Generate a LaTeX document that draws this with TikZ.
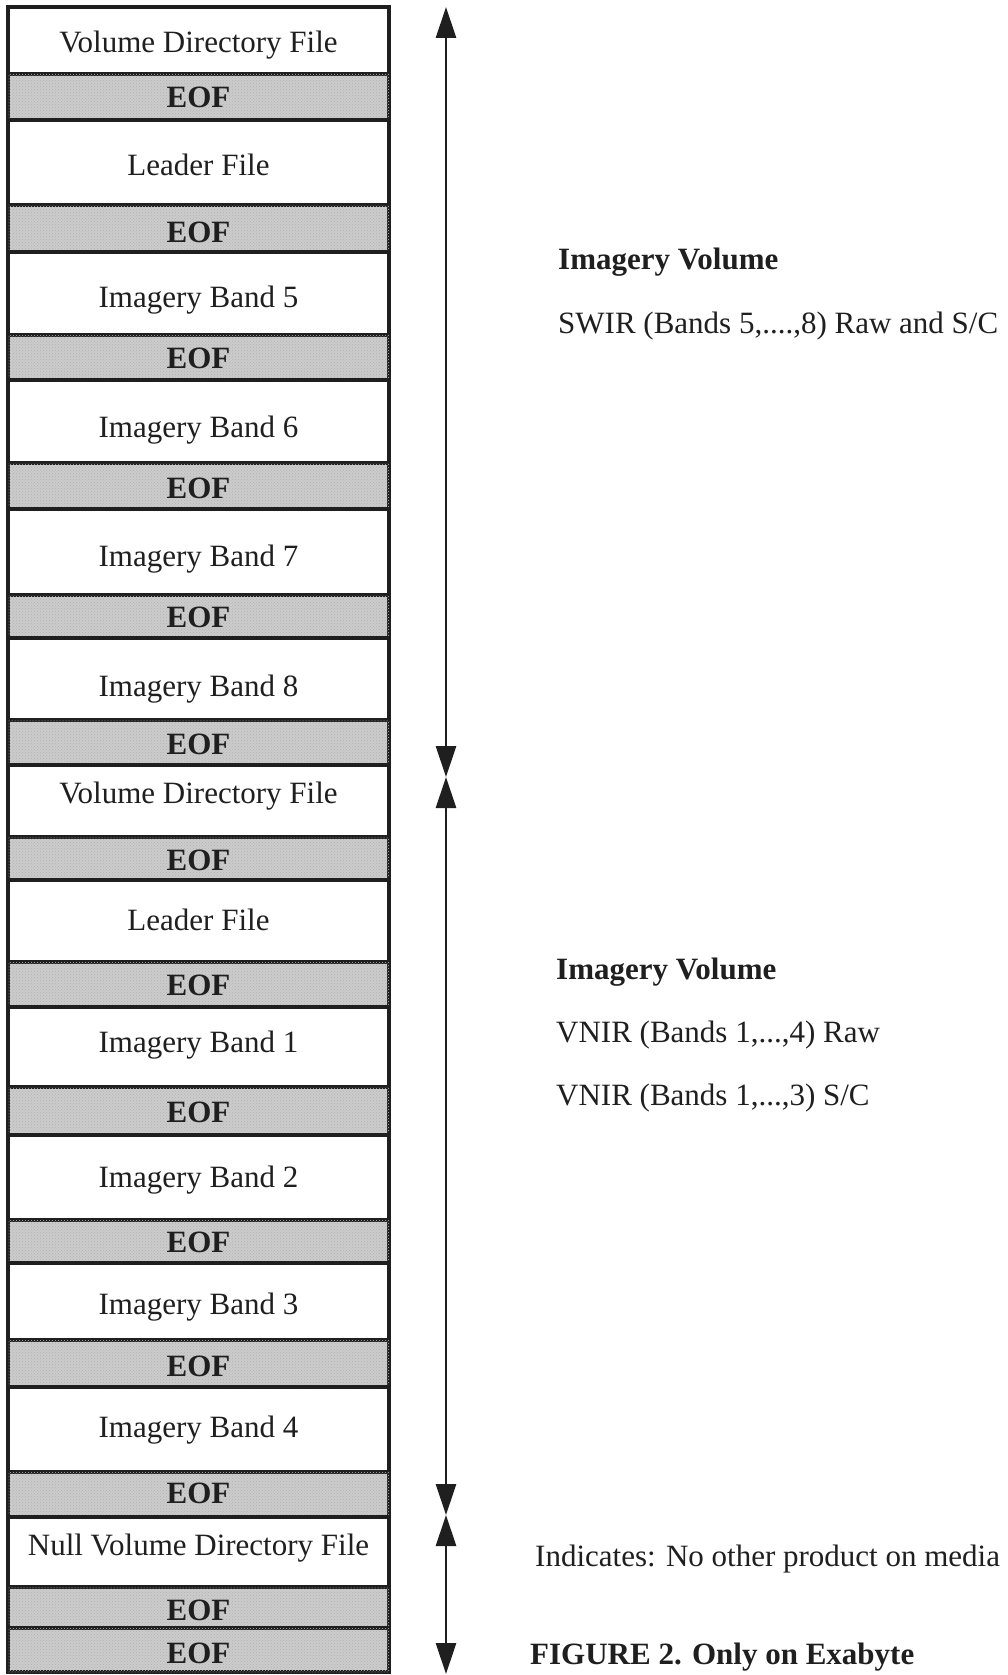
\documentclass[tikz,border=0pt]{standalone}
\usepackage{fontspec}
\setmainfont{Liberation Serif}
\usetikzlibrary{arrows.meta,patterns}
\definecolor{eofgray}{gray}{0.80}
\definecolor{inkc}{gray}{0.12}
\begin{document}
\begin{tikzpicture}[x=1pt,y=-1pt,
  cell/.style={draw=inkc, line width=3.5pt, minimum width=381pt, inner sep=0pt, outer sep=0pt},
  filebox/.style={cell, fill=white},
  eofbox/.style={cell, fill=eofgray, postaction={pattern=crosshatch dots, pattern color=black!30}},
  lbl/.style={font=\fontsize{31pt}{36pt}\selectfont, anchor=base, inner sep=0pt, text=inkc},
  eoflbl/.style={lbl, font=\fontsize{31pt}{36pt}\selectfont\bfseries},
  side/.style={lbl, anchor=base west},
  sidebold/.style={side, font=\fontsize{31pt}{36pt}\selectfont\bfseries},
  dim/.style={draw=inkc, line width=2.8pt, {Triangle[length=31pt,width=20pt]}-{Triangle[length=31pt,width=20pt]}}
]
\useasboundingbox[fill=white] (0,0) rectangle (1007,1675);
\foreach \n/\t/\b/\s/\ls/\l/\bl in {
  r1/7/74/filebox/lbl/Volume Directory File/53,
  r2/74/120/eofbox/eoflbl/EOF/108,
  r3/120/205/filebox/lbl/Leader File/175,
  r4/205/252/eofbox/eoflbl/EOF/242,
  r5/252/335/filebox/lbl/Imagery Band 5/307,
  r6/335/380/eofbox/eoflbl/EOF/368,
  r7/380/463/filebox/lbl/Imagery Band 6/437,
  r8/463/509/eofbox/eoflbl/EOF/498,
  r9/509/595/filebox/lbl/Imagery Band 7/566,
  r10/595/638/eofbox/eoflbl/EOF/627,
  r11/638/720/filebox/lbl/Imagery Band 8/696,
  r12/720/765/eofbox/eoflbl/EOF/754,
  r13/765/837/filebox/lbl/Volume Directory File/803,
  r14/837/880/eofbox/eoflbl/EOF/870,
  r15/880/962/filebox/lbl/Leader File/930,
  r16/962/1007/eofbox/eoflbl/EOF/995,
  r17/1007/1087/filebox/lbl/Imagery Band 1/1052,
  r18/1087/1135/eofbox/eoflbl/EOF/1122,
  r19/1135/1220/filebox/lbl/Imagery Band 2/1187,
  r20/1220/1263/eofbox/eoflbl/EOF/1252,
  r21/1263/1340/filebox/lbl/Imagery Band 3/1314,
  r22/1340/1387/eofbox/eoflbl/EOF/1376,
  r23/1387/1472/filebox/lbl/Imagery Band 4/1437,
  r24/1472/1517/eofbox/eoflbl/EOF/1503,
  r25/1517/1587/filebox/lbl/Null Volume Directory File/1555,
  r26/1587/1628/eofbox/eoflbl/EOF/1620,
  r27/1628/1672/eofbox/eoflbl/EOF/1663}{
  \node[\s, minimum height={\b-\t}] (\n) at (198.5,{(\t+\b)/2}) {};
  \node[\ls] (\n-t) at (198.5,\bl) {\l};
}
\coordinate (a0) at (446,7);
\coordinate (a1) at (446,777);
\coordinate (a2) at (446,1515);
\coordinate (a3) at (446,1674);
\draw[dim] (a1) -- (a0);
\draw[dim] (a1) -- (a2);
\draw[dim] (a2) -- (a3);
\node[sidebold] (v1) at (558,269) {Imagery Volume};
\node[side] (v1a) at (558,333) {SWIR (Bands 5,....,8) Raw and S/C};
\node[sidebold] (v2) at (556,979) {Imagery Volume};
\node[side] (v2a) at (556,1042) {VNIR (Bands 1,...,4) Raw};
\node[side] (v2b) at (556,1105) {VNIR (Bands 1,...,3) S/C};
\node[side] (ind) at (535,1566) {Indicates: No other product on media};
\node[sidebold] (fig) at (530,1664) {FIGURE 2. Only on Exabyte};
\end{tikzpicture}
\end{document}
